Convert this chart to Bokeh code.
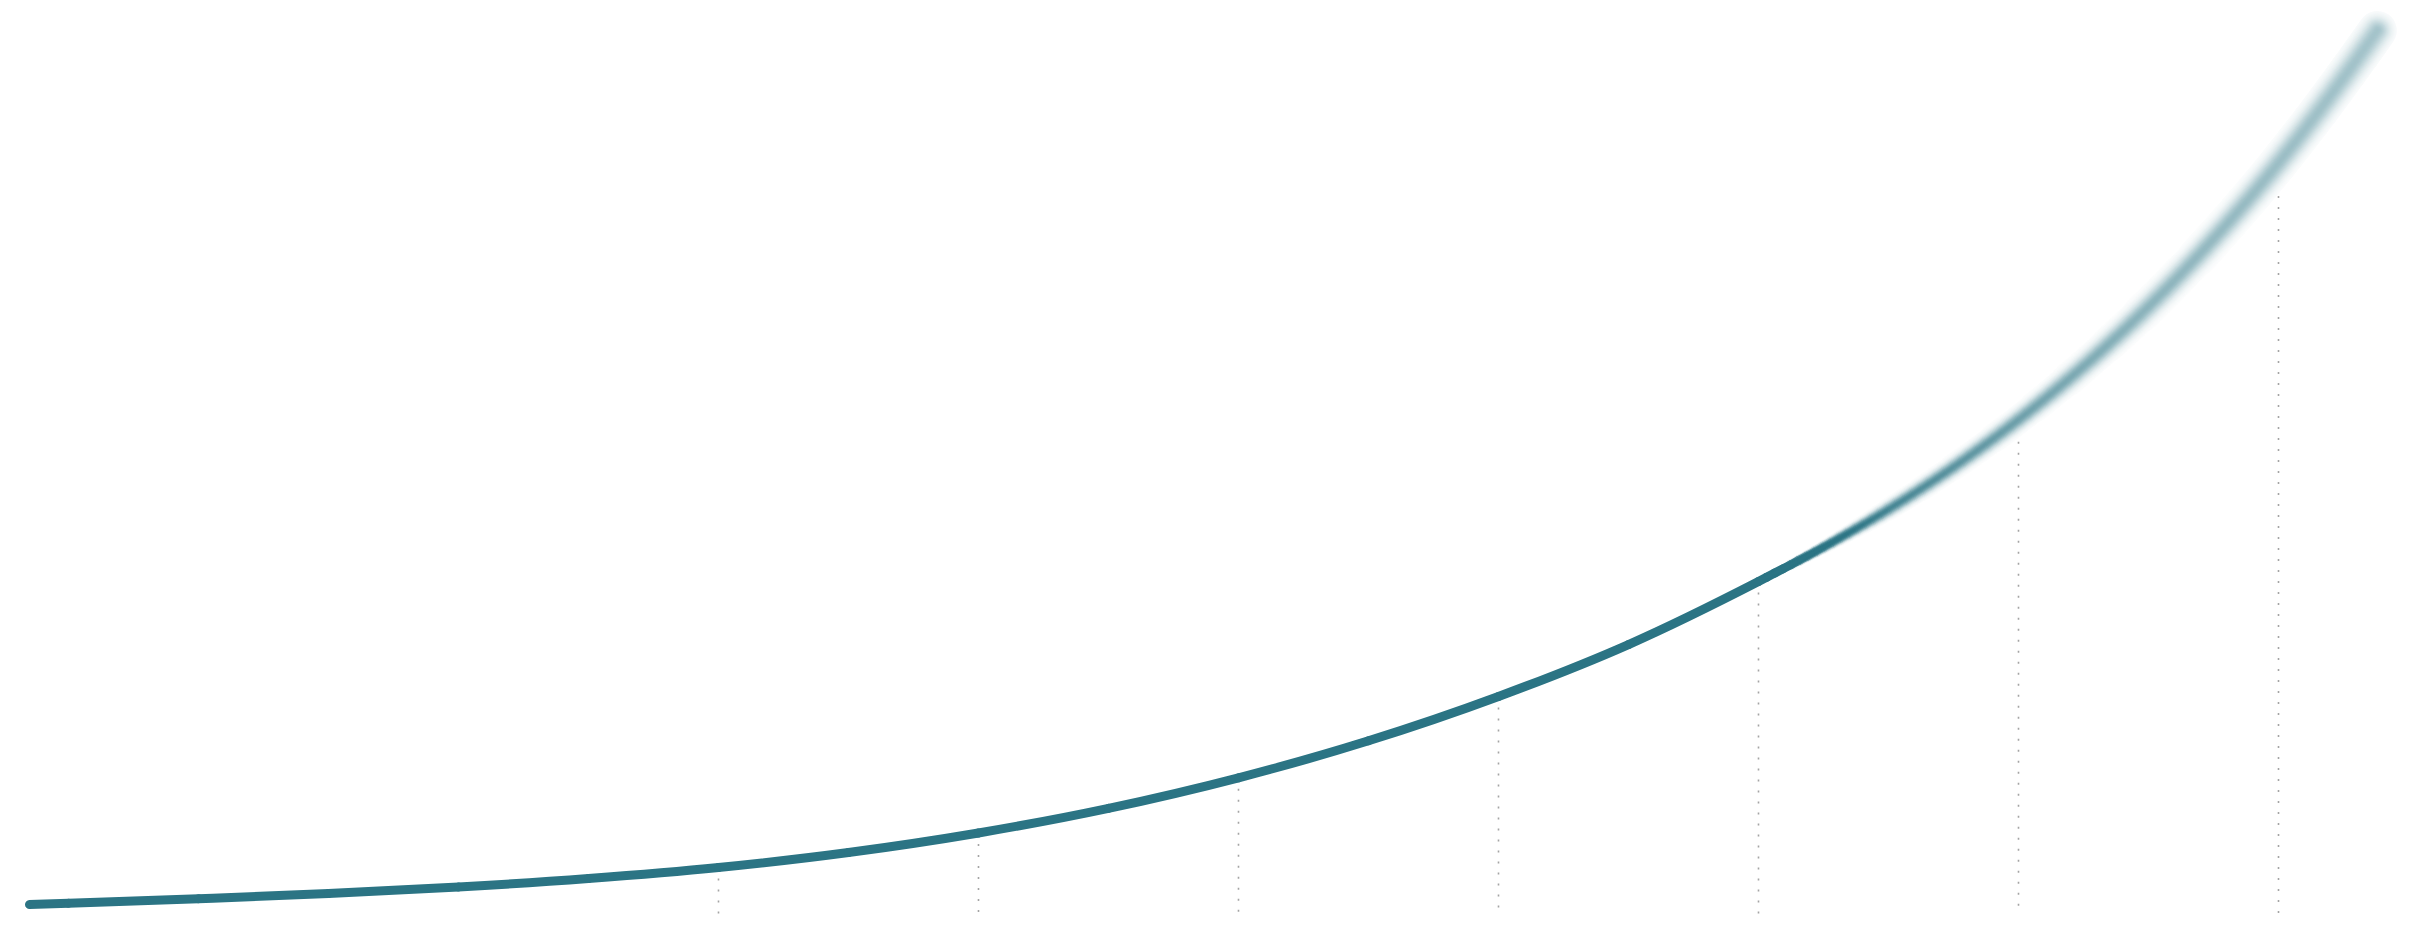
import math
from bokeh.plotting import figure
from bokeh.models import ColumnDataSource, Range1d
from bokeh.embed import file_html
from bokeh.resources import INLINE

# ---- data ----
periods = [0.35, 0.5, 1, 1.5, 2, 2.5, 3, 3.5, 4, 4.5, 5, 5.5, 6, 6.5, 7,
           7.25, 7.5, 7.75, 8, 8.25, 8.5, 8.75, 9, 9.25, 9.38]
growth = [1.01, 1.15, 1.67, 2.25, 2.98, 3.94, 5.18, 6.87, 9.07, 11.84, 15.28,
          19.45, 24.44, 30.29, 37.39, 41.26, 45.51, 50.27, 55.61, 61.61,
          68.34, 75.96, 84.52, 94.11, 99.44]
marker_periods = [3, 4, 5, 6, 7, 8, 9]

LINE_RGB = (43, 116, 132)
LINE_COLOR = "#%02x%02x%02x" % LINE_RGB
DOT_COLOR = "#a4a4a4"
SHARP_UNTIL = 7          # the curve is crisp up to this period, then blurs
X0, X1 = 0.2385, 9.4846  # x range
PX_PER_X = 2404 / (X1 - X0)

lookup = dict(zip(periods, growth))
marker_values = [lookup[m] for m in marker_periods]

p = figure(width=2404, height=933, output_backend="svg", toolbar_location=None,
           x_range=Range1d(X0, X1), y_range=Range1d(-2.252, 102.815),
           x_axis_location=None, y_axis_location=None, min_border=0,
           background_fill_color="white", border_fill_color="white",
           outline_line_color=None)
p.grid.visible = False

# dotted drop lines
p.segment(x0=marker_periods, y0=marker_values, x1=marker_periods,
          y1=[0] * len(marker_periods), line_color=DOT_COLOR, line_width=1.6,
          line_dash="2 9")

# ---- smooth (monotone cubic) bezier pieces through the data ----
n = len(periods)
h = [periods[i + 1] - periods[i] for i in range(n - 1)]
s = [(growth[i + 1] - growth[i]) / h[i] for i in range(n - 1)]
m = [0.0] * n
for i in range(1, n - 1):
    pp = (s[i - 1] * h[i] + s[i] * h[i - 1]) / (h[i - 1] + h[i])
    m[i] = min(2 * s[i - 1], 2 * s[i], pp)
m[0] = (3 * s[0] - m[1]) / 2
m[-1] = (3 * s[-1] - m[-2]) / 2


def bez(i):
    return ((periods[i], growth[i]),
            (periods[i] + h[i] / 3, growth[i] + m[i] * h[i] / 3),
            (periods[i + 1] - h[i] / 3, growth[i + 1] - m[i + 1] * h[i] / 3),
            (periods[i + 1], growth[i + 1]))


def lerp(a, b, t):
    return (a[0] + (b[0] - a[0]) * t, a[1] + (b[1] - a[1]) * t)


def split(b, t):
    p0, p1, p2, p3 = b
    a = lerp(p0, p1, t); bb = lerp(p1, p2, t); c = lerp(p2, p3, t)
    d = lerp(a, bb, t); e = lerp(bb, c, t); f = lerp(d, e, t)
    return (p0, a, d, f), (f, e, c, p3)


def cols(items):
    return dict(x0=[b[0][0] for b in items], y0=[b[0][1] for b in items],
                cx0=[b[1][0] for b in items], cy0=[b[1][1] for b in items],
                cx1=[b[2][0] for b in items], cy1=[b[2][1] for b in items],
                x1=[b[3][0] for b in items], y1=[b[3][1] for b in items])


split_idx = periods.index(SHARP_UNTIL)
sharp = [bez(i) for i in range(split_idx)]

# blur strength along the curve (screen px -> gaussian sigma px)
sig_pts = [(1790, 0.0), (1900, 3.0), (2026, 4.5), (2150, 6.0), (2385, 8.0)]


def sigma_at(sx):
    if sx <= sig_pts[0][0]:
        return 0.0
    for (xa, sa), (xb, sb) in zip(sig_pts[:-1], sig_pts[1:]):
        if sx <= xb:
            return sa + (sb - sa) * (sx - xa) / (xb - xa)
    return sig_pts[-1][1]


HALF = 4.5  # half line width in px


def profile(d, sg):
    if sg < 1e-6:
        return 1.0 if d < HALF else 0.0
    a = sg * math.sqrt(2)
    return 0.5 * (math.erf((HALF - d) / a) + math.erf((HALF + d) / a))


def blend(T):
    return "#%02x%02x%02x" % tuple(int(round(255 - T * (255 - c))) for c in LINE_RGB)


NB = 20
layers = {k: ([], []) for k in range(NB)}
SUB = 8
for i in range(split_idx, n - 1):
    cur = bez(i)
    for j in range(SUB):
        if j < SUB - 1:
            left, cur = split(cur, 1.0 / (SUB - j))
        else:
            left = cur
        xm = 0.5 * (left[0][0] + left[3][0])
        sg = sigma_at(8 + (xm - X0) * PX_PER_X)
        for k in range(NB):
            T = profile(float(k), sg)
            if T > 0.012:
                layers[k][0].append(left)
                layers[k][1].append(blend(T))

# outer (wide, light) bands first, inner (narrow, dark) bands on top
for k in range(NB - 1, -1, -1):
    items, colors = layers[k]
    if not items:
        continue
    d = cols(items)
    d["c"] = colors
    p.bezier(x0="x0", y0="y0", x1="x1", y1="y1", cx0="cx0", cy0="cy0",
             cx1="cx1", cy1="cy1", source=ColumnDataSource(d), line_color="c",
             line_width=2 * k + 1, line_cap="round")

# crisp part of the curve
p.bezier(x0="x0", y0="y0", x1="x1", y1="y1", cx0="cx0", cy0="cy0",
         cx1="cx1", cy1="cy1", source=ColumnDataSource(cols(sharp)),
         line_color=LINE_COLOR, line_width=2 * HALF, line_cap="round")

open("out.html", "w").write(file_html(p, INLINE))
